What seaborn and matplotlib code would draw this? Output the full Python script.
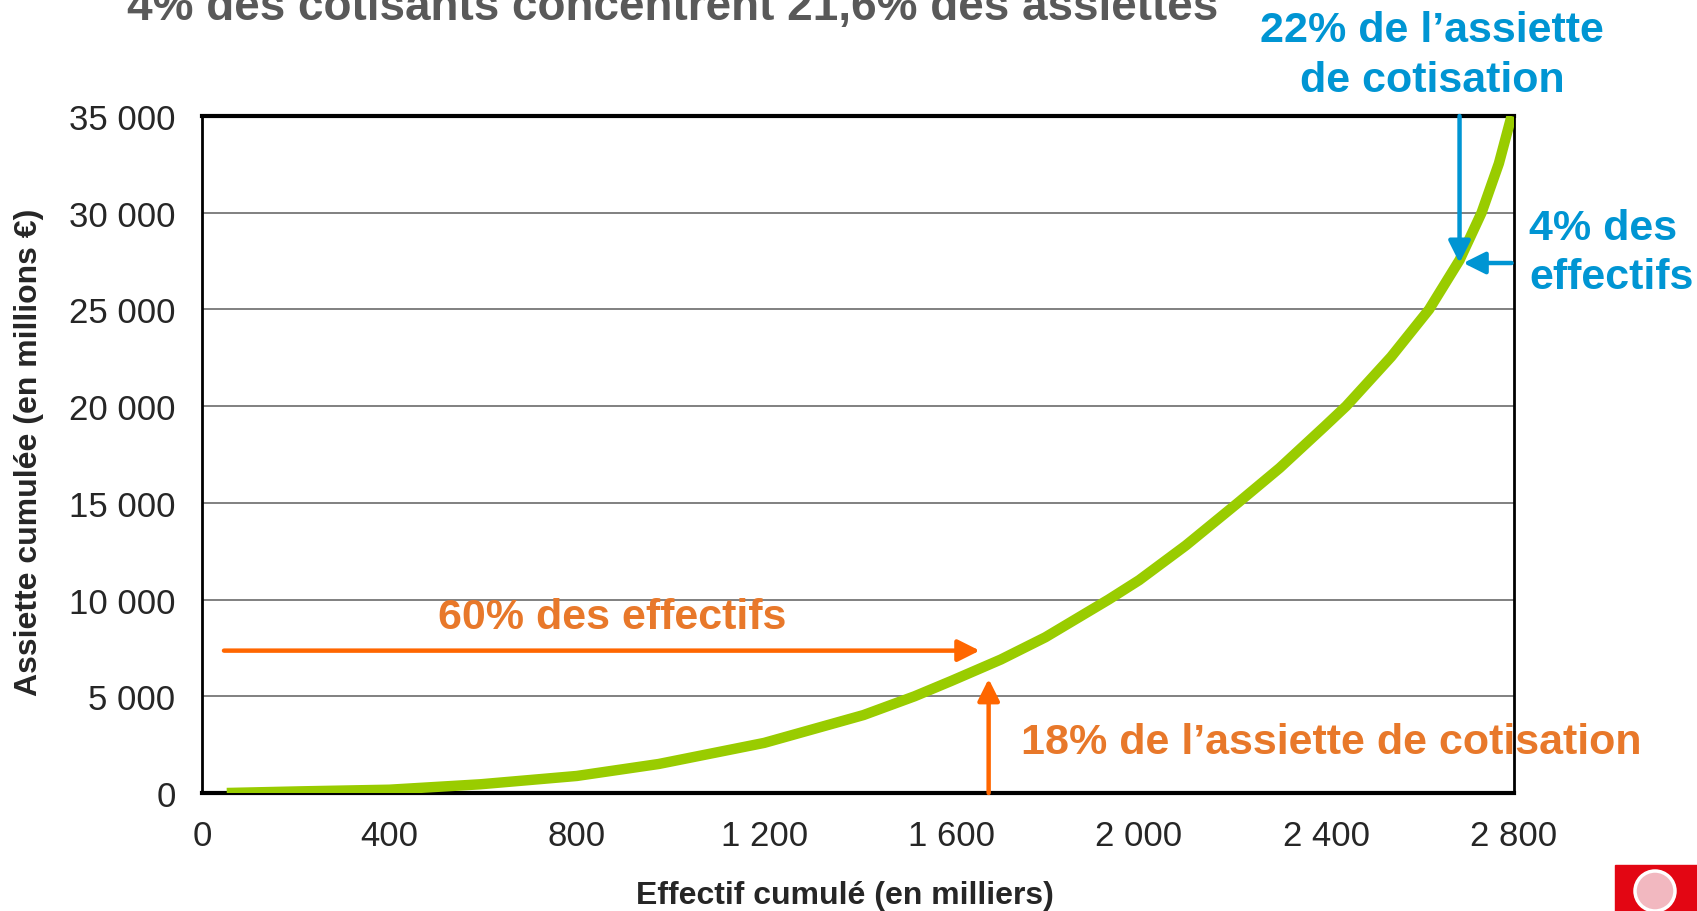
import matplotlib
matplotlib.use("Agg")
import matplotlib.pyplot as plt
import matplotlib.patches as mpatches
import seaborn as sns
import pandas as pd

# cumulative headcount (thousands) vs cumulative base (million EUR)
effectif = [53, 212, 400, 594, 800, 975, 1200, 1412, 1521, 1600, 1705, 1800,
            1935, 2000, 2100, 2211, 2300, 2396, 2442, 2538, 2619, 2684, 2731,
            2768, 2795]
assiette = [0, 85, 170, 450, 880, 1500, 2590, 4030, 5000, 5800, 6900, 8050,
            10000, 11000, 12800, 15000, 16800, 18950, 20000, 22550, 25000,
            27550, 30000, 32550, 35000]

xticks = [0, 400, 800, 1200, 1600, 2000, 2400, 2800]
xtick_labels = ["0", "400", "800", "1 200", "1 600", "2 000", "2 400", "2 800"]
yticks = [0, 5000, 10000, 15000, 20000, 25000, 30000, 35000]
ytick_labels = ["0", "5 000", "10 000", "15 000", "20 000", "25 000", "30 000", "35 000"]

# annotation anchors (data units)
seuil_60 = 1660      # 60% of headcount
niveau_60 = 7360
seuil_4 = 2684       # top 4% starts here
niveau_4 = 27400

GREEN = "#99CC00"
ORANGE = "#FF6600"
ORANGE_TXT = "#E8782A"
BLUE = "#0095D3"
GREY = "#595959"

sns.set_theme(style="white")
plt.rcParams["font.family"] = ["Liberation Sans", "DejaVu Sans"]

df = pd.DataFrame({"effectif": effectif, "assiette": assiette})

fig = plt.figure(figsize=(16.97, 9.12), dpi=100)
ax = fig.add_axes([0.119, 0.1294, 0.7731, 0.7423])

for y in yticks[1:-1]:
    ax.axhline(y, color="#808080", lw=1.4, zorder=0)

sns.lineplot(data=df, x="effectif", y="assiette", color=GREEN, lw=7.5,
             ax=ax, zorder=3, solid_capstyle="butt", solid_joinstyle="round")

ax.set_xlim(0, 2800)
ax.set_ylim(0, 35000)
ax.set_xticks(xticks)
ax.set_xticklabels(xtick_labels, fontsize=25)
ax.set_yticks(yticks)
ax.set_yticklabels(ytick_labels, fontsize=25)
ax.tick_params(axis="x", direction="out", length=9, width=1.2, color="#808080", pad=10)
ax.tick_params(axis="y", direction="out", length=7, width=1.2, color="#808080", pad=12)
ax.set_xlabel("")
ax.set_ylabel("")

for side in ["left", "right"]:
    ax.spines[side].set_color("black")
    ax.spines[side].set_linewidth(2)
ax.spines["bottom"].set_color("black")
ax.spines["bottom"].set_linewidth(3)
ax.spines["top"].set_color("black")
ax.spines["top"].set_linewidth(3)

# orange arrows
arrow_kw = dict(arrowstyle="-|>,head_length=1.1,head_width=0.55", lw=3.2,
                shrinkA=0, shrinkB=0)
ax.annotate("", xy=(seuil_60, niveau_60), xytext=(47, niveau_60),
            arrowprops=dict(color=ORANGE, **arrow_kw), zorder=4)
ax.annotate("", xy=(1679, 5900), xytext=(1679, 0),
            arrowprops=dict(color=ORANGE, **arrow_kw), zorder=4,
            annotation_clip=False)

# blue arrows
ax.annotate("", xy=(seuil_4, niveau_4), xytext=(seuil_4, 35000),
            arrowprops=dict(color=BLUE, **arrow_kw), zorder=4)
ax.annotate("", xy=(2692, niveau_4), xytext=(2795, niveau_4),
            arrowprops=dict(color=BLUE, **arrow_kw), zorder=4)

ax.text(875, 9100, "60% des effectifs", color=ORANGE_TXT, fontsize=31,
        fontweight="bold", ha="center", va="center")
ax.text(1749, 2660, "18% de l\u2019assiette de cotisation", color=ORANGE_TXT,
        fontsize=31, fontweight="bold", ha="left", va="center", clip_on=False)
ax.text(2625, 38150, "22% de l\u2019assiette\nde cotisation", color=BLUE,
        fontsize=31, fontweight="bold", ha="center", va="center",
        linespacing=1.3, clip_on=False)
ax.text(2832, 27950, "4% des\neffectifs", color=BLUE, fontsize=31,
        fontweight="bold", ha="left", va="center", linespacing=1.3,
        clip_on=False)

fig.text(673 / 1697, 1 - 20 / 912,
         "4% des cotisants concentrent 21,6% des assiettes",
         color=GREY, fontsize=33, fontweight="bold", ha="center", va="baseline")
fig.text(845 / 1697, 1 - 896 / 912, "Effectif cumulé (en milliers)",
         fontsize=23, fontweight="bold", ha="center", va="center")
fig.text(29 / 1697, 1 - 452 / 912, "Assiette cumulée (en millions €)",
         fontsize=23, fontweight="bold", ha="center", va="center", rotation=90)

# small institutional logo in the corner
fig.patches.append(mpatches.Rectangle((1615 / 1697, 0), 82 / 1697, 46 / 912,
                                      transform=fig.transFigure,
                                      color="#E30613", zorder=5))
fig.patches.append(mpatches.Ellipse((1655 / 1697, 20 / 912), 40 / 1697, 40 / 912,
                                    transform=fig.transFigure, facecolor="#F2B8C0",
                                    edgecolor="white", lw=2.5, zorder=6))

fig.savefig("out.png", dpi=100)
plt.close(fig)
